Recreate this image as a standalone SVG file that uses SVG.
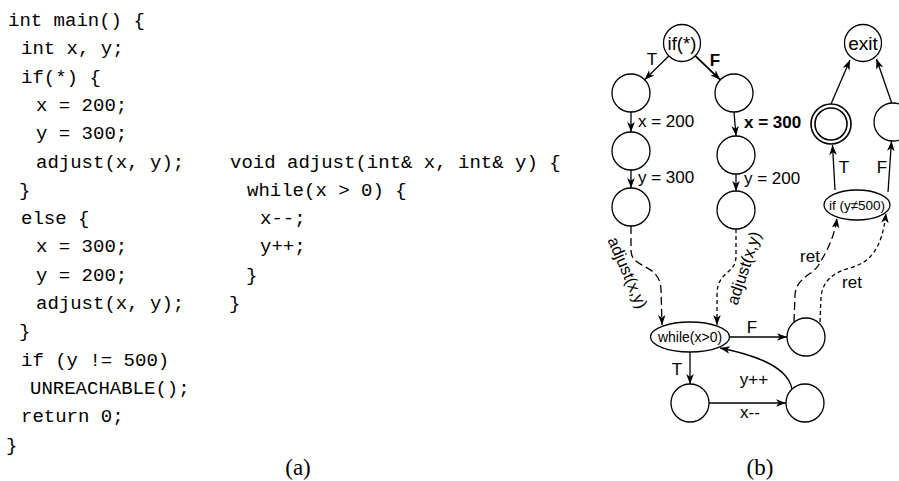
<svg xmlns="http://www.w3.org/2000/svg" width="899" height="481" viewBox="0 0 899 481">
<style>
.code{font-family:"Liberation Mono","DejaVu Sans Mono",monospace;font-size:19px;fill:#000}
.cap{font-family:"Liberation Serif","DejaVu Serif",serif;font-size:23px;fill:#000;text-anchor:middle}
.nd{fill:#fff;stroke:#000;stroke-width:1.3}
.nt{font-family:"Liberation Sans",Arial,sans-serif;fill:#000;text-anchor:middle;dominant-baseline:central}
.lb{font-family:"Liberation Sans",Arial,sans-serif;font-size:17px;fill:#000}
.e{fill:none;stroke:#000;stroke-width:1.3;marker-end:url(#arr)}
.d1{stroke-dasharray:8 4}
.d2{stroke-dasharray:4 3}
</style>
<defs>
<marker id="arr" viewBox="0 0 10 10" refX="10" refY="5" markerWidth="10" markerHeight="10" markerUnits="userSpaceOnUse" orient="auto">
<path d="M0,1.2 L10,5 L0,8.8 L2.8,5 z" fill="#000"/>
</marker>
</defs>
<rect width="899" height="481" fill="#fff"/>

<g id="code-main">
<text class="code" x="8" y="26">int main() {</text>
<text class="code" x="21" y="54">int x, y;</text>
<text class="code" x="21" y="83">if(*) {</text>
<text class="code" x="36" y="111">x = 200;</text>
<text class="code" x="36" y="139">y = 300;</text>
<text class="code" x="36" y="168">adjust(x, y);</text>
<text class="code" x="19" y="196">}</text>
<text class="code" x="21" y="224">else {</text>
<text class="code" x="36" y="252">x = 300;</text>
<text class="code" x="36" y="281">y = 200;</text>
<text class="code" x="36" y="309">adjust(x, y);</text>
<text class="code" x="19" y="337">}</text>
<text class="code" x="21" y="366">if (y != 500)</text>
<text class="code" x="30" y="394">UNREACHABLE();</text>
<text class="code" x="21" y="422">return 0;</text>
<text class="code" x="6" y="451">}</text>
</g>
<g id="code-adjust">
<text class="code" x="230" y="168">void adjust(int&amp; x, int&amp; y) {</text>
<text class="code" x="247" y="196">while(x &gt; 0) {</text>
<text class="code" x="260" y="224">x--;</text>
<text class="code" x="260" y="252">y++;</text>
<text class="code" x="246" y="281">}</text>
<text class="code" x="229" y="309">}</text>
</g>
<text class="cap" x="298" y="475">(a)</text>
<text class="cap" x="760" y="475">(b)</text>

<g id="connectors">
<path class="e" d="M668.8,56 L644.6,79.7"/>
<path class="e" style="stroke-width:1.8" d="M695.3,55.8 L720.3,79.8"/>
<path class="e" d="M631,112 L631,132"/>
<path class="e" d="M734,112 L736,136"/>
<path class="e" d="M631,170 L631,188"/>
<path class="e" d="M736,174 L736,191"/>
<path class="e d1" d="M631,226 L631,250 C631,270 660,262 661,290 L662,325"/>
<path class="e d2" d="M736,229 L736,256 C736,275 717,270 717,295 L717,325"/>
<path class="e" d="M729.5,337 L787,337"/>
<path class="e" d="M690,352 L690,384"/>
<path class="e" d="M709,403 L786,403"/>
<path class="e" d="M792,389 C788,368 760,356 720,348"/>
<path class="e d1" d="M794,322 L795,295 C796,278 812,275 818,266 C824,256 834,240 837,218"/>
<path class="e d2" d="M820,322 L821,298 C822,280 835,272 850,268 C870,262 882,250 886,213"/>
<path class="e" d="M835,190 L832.5,145"/>
<path class="e" d="M888,192 L891.5,141"/>
<path class="e" d="M831,104 L850,60"/>
<path class="e" d="M891.7,103 L876.5,59"/>
</g>

<g id="edge-labels">
<text class="lb" x="652" y="65" text-anchor="middle">T</text>
<text class="lb" x="715" y="66" text-anchor="middle" font-weight="bold">F</text>
<text class="lb" x="638" y="127">x = 200</text>
<text class="lb" x="638" y="183">y = 300</text>
<text class="lb" x="744" y="128" font-weight="bold">x = 300</text>
<text class="lb" x="744" y="184">y = 200</text>
<text class="lb" style="font-size:16.5px" text-anchor="middle" dominant-baseline="central" transform="translate(628,272.5) rotate(66.5)">adjust(x,y)</text>
<text class="lb" style="font-size:16.5px" text-anchor="middle" dominant-baseline="central" transform="translate(743.5,268) rotate(-71.6)">adjust(x,y)</text>
<text class="lb" x="810" y="262" text-anchor="middle">ret</text>
<text class="lb" x="852" y="288" text-anchor="middle">ret</text>
<text class="lb" x="752" y="333" text-anchor="middle">F</text>
<text class="lb" x="677" y="375" text-anchor="middle">T</text>
<text class="lb" x="754" y="385" text-anchor="middle">y++</text>
<text class="lb" x="750" y="418" text-anchor="middle">x--</text>
<text class="lb" x="844" y="173" text-anchor="middle">T</text>
<text class="lb" x="882" y="173" text-anchor="middle">F</text>
</g>

<g id="n-if"><circle class="nd" cx="682" cy="43" r="18.5"/><text class="nt" x="682" y="43" font-size="18.5">if(*)</text></g>
<g id="n-exit"><circle class="nd" cx="863" cy="43" r="18.5"/><text class="nt" x="863" y="43" font-size="19">exit</text></g>
<g id="n-l1"><circle class="nd" cx="631" cy="93" r="19"/></g>
<g id="n-r1"><circle class="nd" cx="734" cy="93" r="19"/></g>
<g id="n-l2"><circle class="nd" cx="631" cy="151" r="19"/></g>
<g id="n-r2"><circle class="nd" cx="736" cy="155" r="19"/></g>
<g id="n-l3"><circle class="nd" cx="631" cy="207" r="19"/></g>
<g id="n-r3"><circle class="nd" cx="736" cy="210" r="19"/></g>
<g id="n-err"><circle class="nd" style="stroke-width:1.6" cx="831" cy="124" r="20"/><circle class="nd" style="stroke-width:1.6" cx="831" cy="124" r="16"/></g>
<g id="n-ok"><circle class="nd" cx="893" cy="122" r="19"/></g>
<g id="n-ify"><ellipse class="nd" cx="857" cy="205" rx="33" ry="15"/><text class="nt" x="857" y="205" font-size="13.5">if (y≠500)</text></g>
<g id="n-while"><ellipse class="nd" cx="690" cy="337" rx="39.5" ry="15"/><text class="nt" x="690" y="337" font-size="14">while(x&gt;0)</text></g>
<g id="n-wexit"><circle class="nd" cx="806" cy="337" r="19"/></g>
<g id="n-b1"><circle class="nd" cx="690" cy="403" r="19"/></g>
<g id="n-b2"><circle class="nd" cx="805" cy="403" r="19"/></g>
</svg>
